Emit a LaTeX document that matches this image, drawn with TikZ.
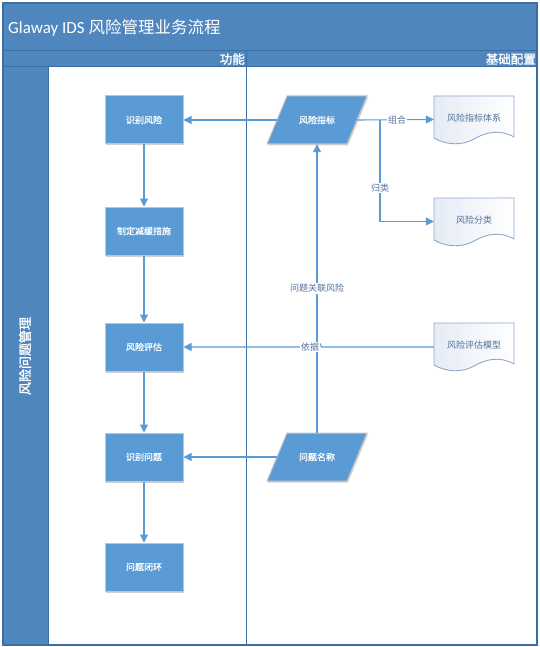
\documentclass[tikz,border=0pt]{standalone}
\usepackage{fontspec}
\setmainfont{Carlito}
\newfontfamily\cjk{Noto Sans CJK SC}
\newfontfamily\cjkbold[FakeBold=1.6]{Noto Sans CJK SC}
\newfontfamily\cjksemi[FakeBold=0.8]{Noto Sans CJK SC}
\usetikzlibrary{arrows.meta,shadows,calc}
\definecolor{band}{HTML}{4F86BE}
\definecolor{frame}{HTML}{3C6EA6}
\definecolor{boxfill}{HTML}{5B9BD5}
\definecolor{boxline}{HTML}{C4C4C4}
\definecolor{conn}{HTML}{5B9BD5}
\definecolor{doctext}{HTML}{52709C}
\definecolor{docline}{HTML}{8FAACF}
\definecolor{docfill}{HTML}{E6EBF4}
\begin{document}
\begin{tikzpicture}[x=1pt,y=-1pt,
  shapeshadow/.style={drop shadow={shadow xshift=1pt,shadow yshift=-1.5pt,opacity=0.18,fill=black}},
  procbox/.style={rectangle,fill=boxfill,draw=boxline,line width=1pt,minimum width=78pt,minimum height=48pt,
    inner sep=0pt,text=white,font=\cjksemi\fontsize{9}{11}\selectfont,shapeshadow},
  pzsty/.style={fill=boxfill,draw=boxline,line width=1pt,shapeshadow},
  pztext/.style={rectangle,minimum width=80pt,minimum height=48pt,inner sep=0pt,text=white,font=\cjksemi\fontsize{9}{11}\selectfont},
  docsty/.style={draw=docline,line width=0.9pt,left color=docfill,right color=white},
  doctxt/.style={rectangle,minimum width=80pt,minimum height=48pt,inner sep=0pt,text=doctext,font=\cjk\fontsize{9}{11}\selectfont},
  flow/.style={draw=conn,line width=1.1pt,-{Triangle[length=8pt,width=8pt]}},
  lbl/.style={fill=white,text=doctext,font=\cjk\fontsize{9}{11}\selectfont,inner sep=1.2pt},
  headtxt/.style={text=white,font=\cjkbold\fontsize{12.5}{14}\selectfont,inner sep=0pt},
  docshape/.pic={\path[docsty] (0,0) -- (80,0) -- (80,41) .. controls (66,33) and (52,36) .. (40,43)
      .. controls (28,50) and (12,49) .. (0,42) -- cycle;}
]
\useasboundingbox (0,0) rectangle (540,647);
\fill[white] (0,0) rectangle (540,647);
% swimlane frame
\fill[band] (3,3) rectangle (537,67);
\fill[band] (3,67) rectangle (48,645);
\draw[frame,line width=1pt] (3,51) -- (537,51);
\draw[frame,line width=1pt] (3,67) -- (537,67);
\draw[frame,line width=1pt] (48,67) -- (48,645);
\draw[frame,line width=1pt] (246,51) -- (246,645);
\draw[frame,line width=1.5pt] (3,3) rectangle (537,645);

\node[anchor=west,text=white,font=\fontsize{17}{20}\selectfont,inner sep=0pt] (title) at (8,28)
  {Glaway IDS {\cjk\fontsize{16.5}{20}\selectfont 风险管理业务流程}};
\node[anchor=east,headtxt] (hfunc) at (245,59) {功能};
\node[anchor=east,headtxt] (hconf) at (536,59) {基础配置};
\node[rotate=90,headtxt,font=\cjkbold\fontsize{13}{15}\selectfont] (lane) at (25,356) {风险问题管理};

% process boxes
\node[procbox] (p1) at (144,120) {识别风险};
\node[procbox] (p2) at (144,231) {制定减缓措施};
\node[procbox] (p3) at (144,347) {风险评估};
\node[procbox] (p4) at (144,457) {识别问题};
\node[procbox] (p5) at (144,567) {问题闭环};

% data (parallelograms)
\path[pzsty] (267,144) -- (287,96) -- (367,96) -- (347,144) -- cycle;
\node[pztext] (d1) at (317,120) {风险指标};
\path[pzsty] (267,481) -- (287,433) -- (367,433) -- (347,481) -- cycle;
\node[pztext] (d2) at (317,457) {问题名称};

% documents
\pic at (434,96) {docshape};
\node[doctxt] (doc1) at (474,119.5) {\raisebox{4pt}{风险指标体系}};
\pic at (434,198) {docshape};
\node[doctxt] (doc2) at (474,221.5) {\raisebox{4pt}{风险分类}};
\pic at (434,323) {docshape};
\node[doctxt] (doc3) at (474,347) {\raisebox{4pt}{风险评估模型}};

% vertical flow
\draw[flow] (p1.south) -- (p2.north);
\draw[flow] (p2.south) -- (p3.north);
\draw[flow] (p3.south) -- (p4.north);
\draw[flow] (p4.south) -- (p5.north);

% connectors
\draw[flow] (d1.west) -- (p1.east);
\draw[flow] (d2.west) -- (p4.east);
\draw[flow] (d2.north) -- node[lbl,pos=0.5] (l4) {问题关联风险} (d1.south);
\draw[flow] (d1.east) -- node[lbl,pos=0.52] (l1) {组合} (doc1.west);
\coordinate (j) at (380,120);
\draw[flow] (j) |- node[lbl,pos=0.335] (l2) {归类} (doc2.west);
\draw[flow] (doc3.west) -- (321.5,347) arc[start angle=0,end angle=-180,radius=4.5] -- (p3.east);
\node[lbl] (l3) at (310,347) {依据};
\end{tikzpicture}
\end{document}
